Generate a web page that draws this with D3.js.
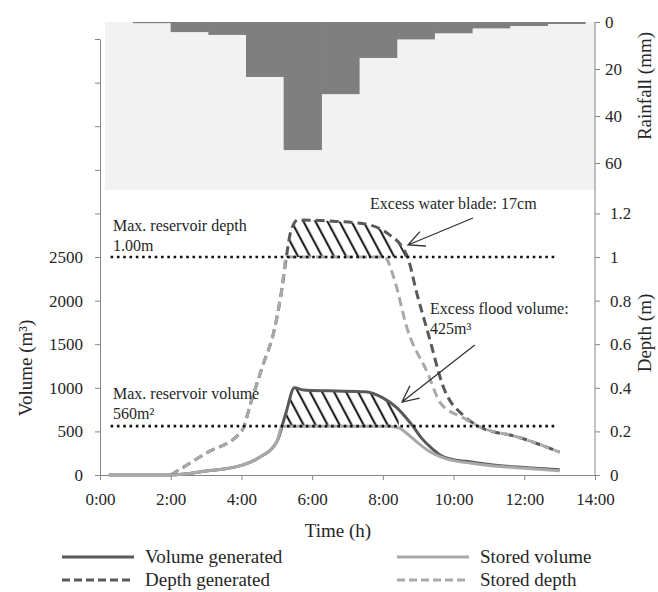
<!DOCTYPE html>
<html>
<head>
<meta charset="utf-8">
<script src="https://cdn.jsdelivr.net/npm/d3@7"></script>
<style>
  body { margin: 0; background: #fff; }
  svg { display: block; font-family: "Liberation Serif", "DejaVu Serif", serif; }
  .axis path, .axis line { stroke: #868686; stroke-width: 1; }
  .axis text { font-family: "Liberation Serif", serif; font-size: 17px; fill: #262626; }
  .note { font-size: 16px; fill: #262626; }
  .title { font-size: 19px; fill: #262626; }
</style>
</head>
<body>
<script>
/* Rainfall per hourly interval (mm) */
var rainHours = [1, 2, 3, 4, 5, 6, 7, 8, 9, 10, 11, 12];
var rainValues = [0.5, 4.3, 5.5, 23.4, 54.5, 30.7, 15.3, 7.4, 4.8, 2.7, 1.7, 0.85];

/* Volume series (m3) */
var volGenHours = [0.25, 2.0, 3.0, 4.0, 4.5, 5.0, 5.25, 5.5, 5.75, 6.5, 7.5, 8.0, 8.4, 8.65, 8.85, 9.1, 9.4, 9.7, 10.0, 10.5, 11.0, 12.0, 13.0];
var volGenValues = [0, 0, 45, 110, 200, 380, 700, 1000, 975, 965, 955, 885, 770, 660, 560, 420, 300, 210, 175, 150, 120, 85, 60];
var storedVolHours = [0.25, 2.0, 3.0, 4.0, 4.5, 5.0, 5.15, 6.0, 7.0, 8.2, 8.45, 8.7, 9.0, 9.3, 9.65, 10.0, 10.5, 11.0, 12.0, 13.0];
var storedVolValues = [0, 0, 45, 110, 200, 380, 560, 560, 560, 560, 540, 470, 365, 275, 205, 165, 135, 110, 78, 48];

/* Depth series (m) */
var depthGenHours = [2.0, 3.0, 4.0, 4.3, 4.6, 4.95, 5.15, 5.27, 5.4, 5.6, 6.5, 7.6, 8.2, 8.55, 8.72, 8.95, 9.28, 9.72, 10.3, 10.75, 11.8, 13.0];
var depthGenValues = [0, 0.1, 0.2, 0.35, 0.5, 0.68, 0.86, 1.0, 1.12, 1.17, 1.165, 1.148, 1.1, 1.045, 0.99, 0.84, 0.65, 0.4, 0.27, 0.22, 0.175, 0.105];
var storedDepthHours = [2.0, 3.0, 4.0, 4.3, 4.6, 4.95, 5.15, 5.27, 6.5, 8.05, 8.3, 8.7, 9.26, 9.63, 10.3, 10.75, 11.8, 13.0];
var storedDepthValues = [0, 0.1, 0.2, 0.35, 0.5, 0.68, 0.86, 1.0, 1.0, 1.0, 0.91, 0.665, 0.47, 0.33, 0.26, 0.22, 0.175, 0.105];

/* Reservoir limits and excess ranges (hours) */
var maxDepth = 1.0;
var maxVolume = 560;
var limitRange = [0.3, 12.85];
var depthExcessRange = [5.0, 8.75];
var volumeExcessRange = [5.0, 8.45];

var xTicks = [0, 2, 4, 6, 8, 10, 12, 14];
var volTicks = d3.range(0, 5001, 500);
var depthTicks = [0, 0.2, 0.4, 0.6, 0.8, 1, 1.2];
var rainTicks = [0, 20, 40, 60];

var legendLabels = ["Volume generated", "Stored volume", "Depth generated", "Stored depth"];
var legendColors = ["#595959", "#a9a9a9", "#595959", "#a9a9a9"];
var legendDashed = [false, false, true, true];

var width = 658, height = 592;
var darkGrey = "#595959", lightGrey = "#a9a9a9";

var svg = d3.select("body").append("svg")
  .attr("width", width)
  .attr("height", height);

var xScale = d3.scaleLinear().domain([0, 14]).range([100, 595]);
var volScale = d3.scaleLinear().domain([0, 5000]).range([475, 39]);
var depthScale = d3.scaleLinear().domain([0, 2]).range([475, 39]);
var rainScale = d3.scaleLinear().domain([0, 71.5]).range([22, 190]);
var rainX = d3.scaleLinear().domain([1, 13]).range([133, 585]);

/* hatch pattern */
var defs = svg.append("defs");
defs.append("pattern")
  .attr("id", "hatch")
  .attr("patternUnits", "userSpaceOnUse")
  .attr("width", 10.6)
  .attr("height", 10)
  .attr("patternTransform", "rotate(-28)")
  .append("line")
    .attr("x1", 5).attr("y1", -1)
    .attr("x2", 5).attr("y2", 11)
    .attr("stroke", "#111")
    .attr("stroke-width", 2);
defs.append("clipPath").attr("id", "clipDepth")
  .append("rect")
    .attr("x", xScale(depthExcessRange[0]))
    .attr("y", 0)
    .attr("width", xScale(depthExcessRange[1]) - xScale(depthExcessRange[0]))
    .attr("height", depthScale(maxDepth));
defs.append("clipPath").attr("id", "clipVol")
  .append("rect")
    .attr("x", xScale(volumeExcessRange[0]))
    .attr("y", 0)
    .attr("width", xScale(volumeExcessRange[1]) - xScale(volumeExcessRange[0]))
    .attr("height", volScale(maxVolume));

/* rainfall panel */
svg.append("rect")
  .attr("x", 105)
  .attr("y", rainScale(0))
  .attr("width", 595 - 105)
  .attr("height", rainScale.range()[1] - rainScale(0))
  .attr("fill", "#f2f2f2");
svg.append("g").selectAll("rect")
  .data(rainHours)
  .enter().append("rect")
    .attr("x", (d) => rainX(d))
    .attr("y", rainScale(0))
    .attr("width", (d) => rainX(d + 1) - rainX(d) + 0.6)
    .attr("height", (d, i) => rainScale(rainValues[i]) - rainScale(0))
    .attr("fill", "#7f7f7f");

/* axes */
svg.append("g")
  .attr("class", "axis")
  .attr("transform", "translate(100,0)")
  .call(d3.axisLeft(volScale).tickValues(volTicks)
    .tickFormat((d) => d <= 2500 ? d : "")
    .tickSize(5).tickSizeOuter(0).tickPadding(12));
svg.append("g")
  .attr("class", "axis")
  .attr("transform", "translate(0,475)")
  .call(d3.axisBottom(xScale).tickValues(xTicks)
    .tickFormat((d) => d + ":00")
    .tickSize(5).tickSizeOuter(0).tickPadding(13));
svg.append("g")
  .attr("class", "axis")
  .attr("transform", "translate(595,0)")
  .call(d3.axisRight(depthScale).tickValues(depthTicks)
    .tickFormat((d) => d)
    .tickSize(5).tickPadding(10))
  .call((g) => g.select(".domain").remove());
svg.append("g")
  .attr("class", "axis")
  .attr("transform", "translate(595,0)")
  .call(d3.axisRight(rainScale).tickValues(rainTicks)
    .tickSize(5).tickPadding(5))
  .call((g) => g.select(".domain").remove());
svg.append("line")
  .attr("x1", 595).attr("x2", 595)
  .attr("y1", rainScale(0)).attr("y2", volScale(0))
  .attr("stroke", "#868686");

/* hatched excess areas */
function zip(hours, values) {
  return hours.map((h, i) => [h, values[i]]);
}
var depthGen = zip(depthGenHours, depthGenValues);
var storedDepth = zip(storedDepthHours, storedDepthValues);
var volGen = zip(volGenHours, volGenValues);
var storedVol = zip(storedVolHours, storedVolValues);

svg.append("path")
  .datum(depthGen)
  .attr("clip-path", "url(#clipDepth)")
  .attr("fill", "url(#hatch)")
  .attr("d", d3.area().curve(d3.curveMonotoneX)
    .x((d) => xScale(d[0]))
    .y0(depthScale(maxDepth))
    .y1((d) => depthScale(d[1])));
svg.append("path")
  .datum(volGen)
  .attr("clip-path", "url(#clipVol)")
  .attr("fill", "url(#hatch)")
  .attr("d", d3.area().curve(d3.curveMonotoneX)
    .x((d) => xScale(d[0]))
    .y0(volScale(maxVolume))
    .y1((d) => volScale(d[1])));

/* series lines */
function drawSeries(data, scale, color, dashed) {
  svg.append("path")
    .datum(data)
    .attr("fill", "none")
    .attr("stroke", color)
    .attr("stroke-width", 3)
    .attr("stroke-dasharray", dashed ? "9,5" : null)
    .attr("d", d3.line().curve(d3.curveMonotoneX)
      .x((d) => xScale(d[0]))
      .y((d) => scale(d[1])));
}
drawSeries(depthGen, depthScale, darkGrey, true);
drawSeries(storedDepth, depthScale, lightGrey, true);
drawSeries(volGen, volScale, darkGrey, false);
drawSeries(storedVol, volScale, lightGrey, false);

/* reservoir limit lines */
[volScale(maxVolume), depthScale(maxDepth)].forEach(function (y) {
  svg.append("line")
    .attr("x1", xScale(limitRange[0]))
    .attr("x2", xScale(limitRange[1]))
    .attr("y1", y).attr("y2", y)
    .attr("stroke", "#111")
    .attr("stroke-width", 2.6)
    .attr("stroke-dasharray", "2.6,3.7");
});

/* annotations */
function drawArrow(tail, tip) {
  var x1 = xScale(tail[0]), y1 = tail[1];
  var x2 = xScale(tip[0]), y2 = tip[1];
  var ang = Math.atan2(y1 - y2, x1 - x2);
  var len = 18, spread = 0.45;
  svg.append("path")
    .attr("fill", "none")
    .attr("stroke", "#333")
    .attr("stroke-width", 1.3)
    .attr("d", "M" + x1 + "," + y1 + "L" + x2 + "," + y2 +
      "M" + (x2 + len * Math.cos(ang - spread)) + "," + (y2 + len * Math.sin(ang - spread)) +
      "L" + x2 + "," + y2 +
      "L" + (x2 + len * Math.cos(ang + spread)) + "," + (y2 + len * Math.sin(ang + spread)));
}
drawArrow([10.55, depthScale(1.179)], [8.71, depthScale(1.055)]);
drawArrow([10.6, volScale(1491)], [8.54, volScale(837)]);

function note(x, y, lines) {
  var t = svg.append("text").attr("class", "note")
    .attr("x", x).attr("y", y);
  lines.forEach(function (l, i) {
    t.append("tspan").attr("x", x).attr("dy", i ? 20 : 0).text(l);
  });
}
note(113, 231, ["Max. reservoir depth", "1.00m"]);
note(113, 399, ["Max. reservoir volume", "560m\u00b2"]);
note(370, 209, ["Excess water blade: 17cm"]);
note(430, 314, ["Excess flood volume:", "425m\u00b3"]);

/* axis titles */
svg.append("text").attr("class", "title")
  .attr("transform", "translate(32,368) rotate(-90)")
  .attr("text-anchor", "middle")
  .text("Volume (m\u00b3)");
svg.append("text").attr("class", "title")
  .attr("transform", "translate(651,333) rotate(-90)")
  .attr("text-anchor", "middle")
  .text("Depth (m)");
svg.append("text").attr("class", "title")
  .attr("transform", "translate(651,86) rotate(-90)")
  .attr("text-anchor", "middle")
  .text("Rainfall (mm)");
svg.append("text").attr("class", "title")
  .attr("x", 338).attr("y", 537)
  .attr("text-anchor", "middle")
  .text("Time (h)");

/* legend */
var legend = svg.append("g").selectAll("g")
  .data(legendLabels)
  .enter().append("g")
    .attr("transform", (d, i) =>
      "translate(" + [62, 397][i % 2] + "," + [557, 580][Math.floor(i / 2)] + ")");
legend.append("line")
  .attr("x1", 0).attr("x2", 72)
  .attr("stroke", (d, i) => legendColors[i])
  .attr("stroke-width", 3)
  .attr("stroke-dasharray", (d, i) => legendDashed[i] ? "8,4" : null);
legend.append("text")
  .attr("class", "title")
  .attr("x", 83)
  .attr("y", 6)
  .text((d) => d);
</script>
</body>
</html>
